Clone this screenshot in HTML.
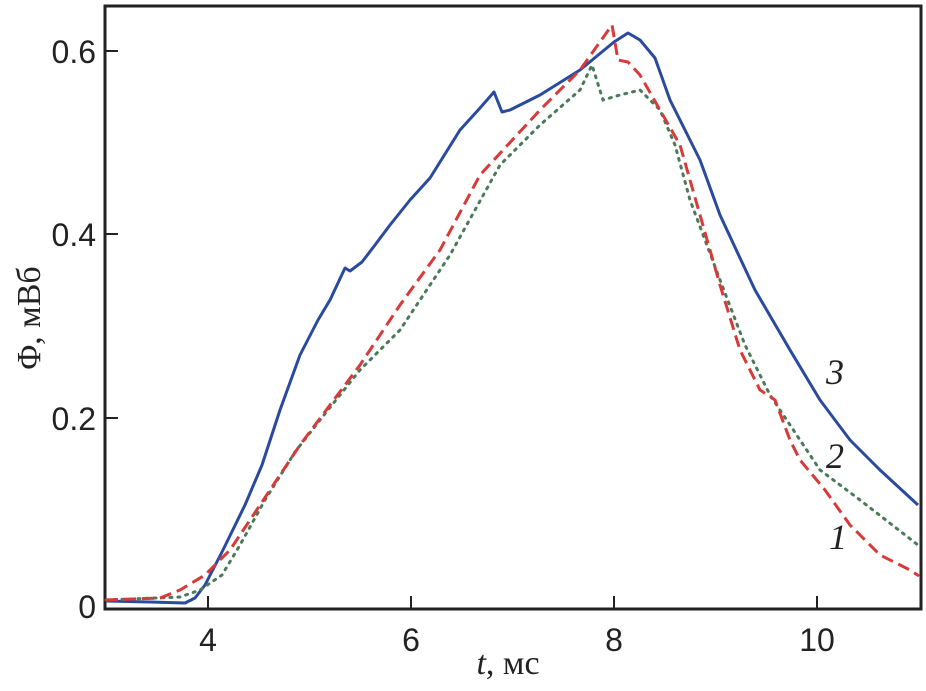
<!DOCTYPE html>
<html><head><meta charset="utf-8"><style>body{margin:0;background:#fff}</style></head><body>
<svg width="926" height="686" viewBox="0 0 926 686" xmlns="http://www.w3.org/2000/svg" font-family="Liberation Serif, serif">
<rect x="0" y="0" width="926" height="686" fill="#fff"/>
<rect x="105" y="6" width="816" height="603" fill="none" stroke="#222" stroke-width="3"/>
<g stroke="#222" stroke-width="2">
<line x1="208" y1="609" x2="208" y2="596"/><line x1="411" y1="609" x2="411" y2="596"/><line x1="614" y1="609" x2="614" y2="596"/><line x1="817" y1="609" x2="817" y2="596"/>
<line x1="105" y1="418" x2="118" y2="418"/><line x1="105" y1="234" x2="118" y2="234"/><line x1="105" y1="51" x2="118" y2="51"/>
</g>
<g font-size="32" fill="#222" text-anchor="middle" font-family="Liberation Sans, sans-serif">
<text x="208" y="651">4</text><text x="411" y="651">6</text><text x="614" y="651">8</text><text x="817" y="651">10</text>
</g>
<g font-size="32" fill="#222" text-anchor="end" font-family="Liberation Sans, sans-serif">
<text x="96" y="618">0</text><text x="96" y="430">0.2</text><text x="96" y="246">0.4</text><text x="96" y="63">0.6</text>
</g>
<text x="508" y="674" font-size="34" fill="#222" text-anchor="middle"><tspan font-style="italic">t</tspan>, мс</text>
<text transform="translate(40,318) rotate(-90)" font-size="34" fill="#222" text-anchor="middle">Φ, мВб</text>
<polyline fill="none" stroke="#2a4aa0" stroke-width="3" stroke-linejoin="round" points="106,601 150,602 185,603 195,598 205,585 222,552 245,505 262,465 280,410 300,355 318,320 330,300 345,268 350,271 362,262 375,245 390,225 410,200 430,178 460,130 480,108 494,92 502,112 510,110 540,95 580,70 614,42 628,33 640,40 655,58 670,100 685,130 700,160 720,215 740,258 755,290 790,350 820,400 850,440 880,470 918,505"/>
<polyline fill="none" stroke="#4a7a5a" stroke-width="3" stroke-dasharray="2,6" stroke-linecap="round" points="106,600 180,597 200,590 222,575 240,545 265,500 295,452 320,420 360,370 400,330 420,300 450,255 500,165 540,125 580,90 592,65 603,100 620,95 640,90 660,110 675,145 690,200 720,280 745,345 770,395 800,440 820,470 860,500 918,545"/>
<polyline fill="none" stroke="#d83a3a" stroke-width="3" stroke-dasharray="12,6" points="106,600 160,598 180,590 205,575 230,550 260,505 300,445 330,405 360,365 400,305 440,250 480,175 540,110 580,70 612,25 618,60 628,62 640,75 660,110 680,145 700,215 720,285 740,350 760,390 775,400 790,440 800,460 825,490 850,525 880,555 910,570 919,576"/>
<g font-size="36" font-style="italic" fill="#222">
<text x="826" y="384">3</text><text x="826" y="468">2</text><text x="829" y="549">1</text>
</g>
</svg>
</body></html>
